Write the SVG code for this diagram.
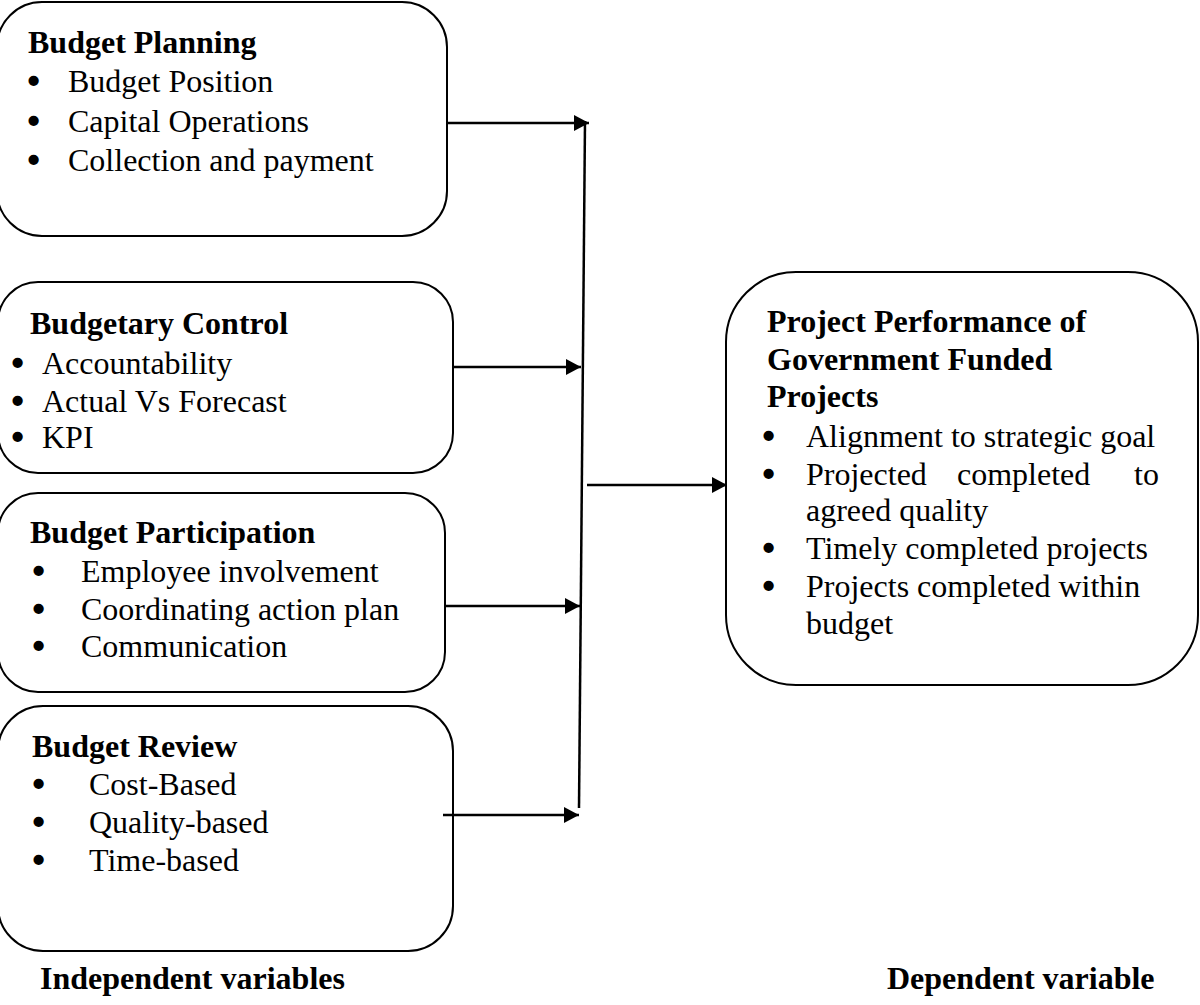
<svg xmlns="http://www.w3.org/2000/svg" width="1200" height="1005" viewBox="0 0 1200 1005">
  <style>
    .box { fill: #ffffff; stroke: #000000; stroke-width: 2; }
    .t { font-family: "Liberation Serif", "Times New Roman", serif; font-size: 32px; fill: #000000; }
    .b { font-weight: bold; }
    .dot { font-family: "Liberation Serif", "Times New Roman", serif; font-size: 32px; fill: #000000; stroke: #000000; stroke-width: 2.6; }
    .wire { stroke: #000000; stroke-width: 2.5; fill: none; }
  </style>
  <defs>
    <marker id="head" markerUnits="userSpaceOnUse" markerWidth="16" markerHeight="16" refX="15" refY="8" orient="auto">
      <path d="M0,0 L15,8 L0,16 Z" fill="#000000"/>
    </marker>
  </defs>
  <rect width="1200" height="1005" fill="#ffffff"/>

  <!-- independent variable boxes -->
  <g id="budget-planning">
    <rect class="box" x="-3" y="2" width="450" height="234" rx="45" ry="45"/>
    <text class="t b" x="28" y="53">Budget Planning</text>
    <text class="dot" x="28" y="92">•</text><text class="t" x="68" y="92">Budget Position</text>
    <text class="dot" x="28" y="132">•</text><text class="t" x="68" y="132">Capital Operations</text>
    <text class="dot" x="28" y="171">•</text><text class="t" x="68" y="171">Collection and payment</text>
  </g>

  <g id="budgetary-control">
    <rect class="box" x="-2" y="282" width="455" height="191" rx="40" ry="40"/>
    <text class="t b" x="30" y="334">Budgetary Control</text>
    <text class="dot" x="12" y="374">•</text><text class="t" x="42" y="374">Accountability</text>
    <text class="dot" x="12" y="412">•</text><text class="t" x="42" y="412">Actual Vs Forecast</text>
    <text class="dot" x="12" y="448">•</text><text class="t" x="42" y="448">KPI</text>
  </g>

  <g id="budget-participation">
    <rect class="box" x="-2" y="493" width="447" height="199" rx="40" ry="40"/>
    <text class="t b" x="30" y="543">Budget Participation</text>
    <text class="dot" x="33" y="582">•</text><text class="t" x="81" y="582">Employee involvement</text>
    <text class="dot" x="33" y="620">•</text><text class="t" x="81" y="620">Coordinating action plan</text>
    <text class="dot" x="33" y="657">•</text><text class="t" x="81" y="657">Communication</text>
  </g>

  <g id="budget-review">
    <rect class="box" x="-2" y="706" width="455" height="245" rx="45" ry="45"/>
    <text class="t b" x="32" y="757">Budget Review</text>
    <text class="dot" x="33" y="795">•</text><text class="t" x="89" y="795">Cost-Based</text>
    <text class="dot" x="33" y="833">•</text><text class="t" x="89" y="833">Quality-based</text>
    <text class="dot" x="33" y="871">•</text><text class="t" x="89" y="871">Time-based</text>
  </g>

  <!-- dependent variable box -->
  <g id="project-performance">
    <rect class="box" x="726" y="272" width="472" height="413" rx="70" ry="70"/>
    <text class="t b" x="767" y="332">Project Performance of</text>
    <text class="t b" x="767" y="370">Government Funded</text>
    <text class="t b" x="767" y="407">Projects</text>
    <text class="dot" x="763" y="447">•</text><text class="t" x="806" y="447">Alignment to strategic goal</text>
    <text class="dot" x="763" y="485">•</text><text class="t" y="485"><tspan x="806">Projected</tspan><tspan x="957">completed</tspan><tspan x="1134">to</tspan></text>
    <text class="t" x="806" y="521">agreed quality</text>
    <text class="dot" x="763" y="559">•</text><text class="t" x="806" y="559">Timely completed projects</text>
    <text class="dot" x="763" y="597">•</text><text class="t" x="806" y="597">Projects completed within</text>
    <text class="t" x="806" y="634">budget</text>
  </g>

  <!-- connectors -->
  <g id="connectors">
    <line class="wire" x1="447" y1="123" x2="589" y2="123" marker-end="url(#head)"/>
    <line class="wire" x1="585" y1="121" x2="579" y2="808"/>
    <line class="wire" x1="453" y1="367" x2="581" y2="367" marker-end="url(#head)"/>
    <line class="wire" x1="445" y1="606" x2="580" y2="606" marker-end="url(#head)"/>
    <line class="wire" x1="443" y1="815" x2="579" y2="815" marker-end="url(#head)"/>
    <line class="wire" x1="587" y1="485" x2="727" y2="485" marker-end="url(#head)"/>
  </g>

  <!-- axis captions -->
  <text id="label-independent" class="t b" x="40" y="989">Independent variables</text>
  <text id="label-dependent" class="t b" x="887" y="989">Dependent variable</text>
</svg>
